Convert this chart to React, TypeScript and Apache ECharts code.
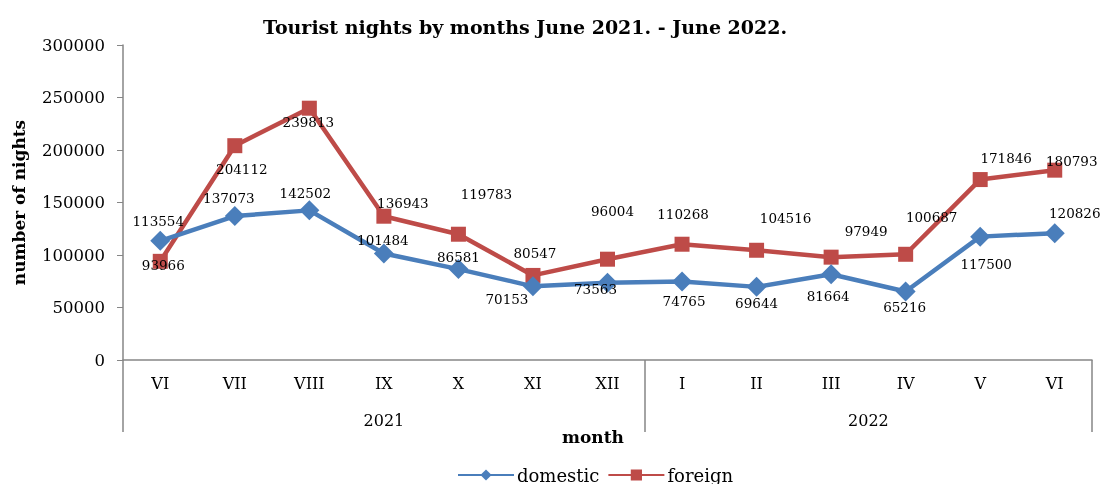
import React, { useEffect, useRef } from 'react';
import * as echarts from 'echarts';

const months = ['VI', 'VII', 'VIII', 'IX', 'X', 'XI', 'XII', 'I', 'II', 'III', 'IV', 'V', 'VI'];
const years = ['2021', '2022'];
const yearBounds = [0, 7, 13];
const domestic = [113554, 137073, 142502, 101484, 86581, 70153, 73563, 74765, 69644, 81664, 65216, 117500, 120826];
const foreign = [93966, 204112, 239813, 136943, 119783, 80547, 96004, 110268, 104516, 97949, 100687, 171846, 180793];
const yMax = 300000;
const yStep = 50000;

// label offsets (styling) relative to each marker
const domesticLabelOffsets = [[-2, -20], [-6, -18], [-4, -17], [-1, -13], [0, -12], [-26, 13], [-12, 6], [2, 20], [0, 16], [-3, 22], [-1, 15], [6, 27], [20, -20]];
const foreignLabelOffsets = [[3, 4], [7, 23], [-1, 14], [19, -13], [28, -40], [2, -22], [5, -48], [1, -30], [29, -32], [35, -26], [26, -37], [26, -22], [17, -9]];

const FONT = 'DejaVu Serif';
const BLUE = '#4A7EBB';
const RED = '#BE4B48';
const AXIS = '#868686';

export default function App() {
  const ref = useRef<HTMLDivElement>(null);
  useEffect(() => {
    if (!ref.current) return;
    const chart = echarts.init(ref.current, undefined, { renderer: 'svg' });
    const yearMids = years.map((_, i) => (yearBounds[i] + yearBounds[i + 1]) / 2);
    const labelBase = { show: true, position: 'inside', fontSize: 13.5, color: '#000', fontFamily: FONT };
    chart.setOption({
      animation: false,
      textStyle: { fontFamily: FONT },
      title: {
        text: 'Tourist nights by months June 2021. - June 2022.',
        left: 520,
        top: 12,
        textAlign: 'center',
        textStyle: { fontFamily: FONT, fontSize: 19, fontWeight: 'bold', color: '#000' },
      },
      legend: {
        data: ['domestic', 'foreign'],
        left: 452,
        top: 461,
        itemWidth: 56,
        itemHeight: 14,
        itemGap: 8,
        textStyle: { fontFamily: FONT, fontSize: 18, color: '#000', padding: [0, 0, 0, -2] },
      },
      grid: { left: 123, right: 11, top: 45, bottom: 124 },
      xAxis: [
        {
          type: 'category',
          data: months,
          boundaryGap: true,
          axisLine: { show: true, lineStyle: { color: AXIS, width: 1.5 } },
          axisTick: { show: false },
          axisLabel: { fontSize: 16, margin: 15, color: '#000', fontFamily: FONT },
        },
        {
          type: 'value',
          min: yearBounds[0],
          max: yearBounds[yearBounds.length - 1],
          position: 'bottom',
          axisLine: { show: false },
          splitLine: { show: false },
          axisTick: { show: true, length: 72, customValues: yearBounds, lineStyle: { color: AXIS, width: 1.5 } },
          axisLabel: {
            show: true,
            customValues: yearMids,
            margin: 52,
            fontSize: 16,
            color: '#000',
            fontFamily: FONT,
            formatter: (v: number) => years[yearMids.indexOf(v)] ?? '',
          },
        },
      ],
      yAxis: {
        type: 'value',
        min: 0,
        max: yMax,
        interval: yStep,
        name: 'number of nights',
        nameLocation: 'middle',
        nameGap: 96,
        nameTextStyle: { fontFamily: FONT, fontSize: 17, fontWeight: 'bold', color: '#000' },
        axisLine: { show: true, lineStyle: { color: AXIS, width: 1.5 } },
        axisTick: { show: true, length: 6, lineStyle: { color: AXIS } },
        axisLabel: { fontSize: 16.5, margin: 18, color: '#000', fontFamily: FONT, formatter: (v: number) => String(v) },
        splitLine: { show: false },
      },
      graphic: [
        {
          type: 'text',
          x: 593,
          y: 437,
          style: { text: 'month', font: `bold 17px "${FONT}"`, fill: '#000', textAlign: 'center', textVerticalAlign: 'middle' },
        },
      ],
      series: [
        {
          name: 'domestic',
          type: 'line',
          xAxisIndex: 0,
          data: domestic.map((v, i) => ({ value: v, label: { offset: domesticLabelOffsets[i] } })),
          symbol: 'diamond',
          symbolSize: 20,
          lineStyle: { color: BLUE, width: 4.5 },
          itemStyle: { color: BLUE },
          label: labelBase,
          z: 3,
        },
        {
          name: 'foreign',
          type: 'line',
          xAxisIndex: 0,
          data: foreign.map((v, i) => ({ value: v, label: { offset: foreignLabelOffsets[i] } })),
          symbol: 'rect',
          symbolSize: 15,
          lineStyle: { color: RED, width: 4.5 },
          itemStyle: { color: RED },
          label: labelBase,
          z: 2,
        },
      ],
    });
    return () => chart.dispose();
  }, []);
  return <div ref={ref} style={{ position: 'fixed', left: 0, top: 0, width: 1103, height: 484 }} />;
}
